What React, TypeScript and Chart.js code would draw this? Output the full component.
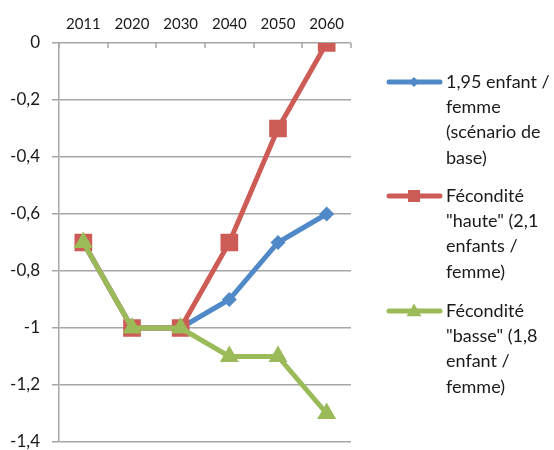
import React, { useEffect, useRef } from "react";
import { Chart, registerables } from "chart.js";

Chart.register(...registerables);

const categories = ["2011", "2020", "2030", "2040", "2050", "2060"];
const baseScenario = [-0.7, -1.0, -1.0, -0.9, -0.7, -0.6];
const highFertility = [-0.7, -1.0, -1.0, -0.7, -0.3, 0];
const lowFertility = [-0.7, -1.0, -1.0, -1.1, -1.1, -1.3];
const legendLabels = [
  ["1,95 enfant /", "femme", "(scénario de", "base)"],
  ["Fécondité", "\"haute\" (2,1", "enfants /", "femme)"],
  ["Fécondité", "\"basse\" (1,8", "enfant /", "femme)"],
];

const BLUE = "#5089C8";
const RED = "#CD5B56";
const GREEN = "#9BBB59";
const GRID = "#A6A6A6";
const FONT = "Lato, 'Open Sans', sans-serif";

function drawMarker(ctx: CanvasRenderingContext2D, style: string, x: number, y: number, r: number, color: string) {
  ctx.save();
  ctx.fillStyle = color;
  ctx.beginPath();
  if (style === "rectRot") {
    ctx.moveTo(x, y - r);
    ctx.lineTo(x + r, y);
    ctx.lineTo(x, y + r);
    ctx.lineTo(x - r, y);
  } else if (style === "rect") {
    ctx.rect(x - r, y - r, 2 * r, 2 * r);
  } else {
    ctx.moveTo(x, y - r);
    ctx.lineTo(x + r, y + r * 0.7);
    ctx.lineTo(x - r, y + r * 0.7);
  }
  ctx.closePath();
  ctx.fill();
  ctx.restore();
}

const customPlugin = {
  id: "custom",
  afterDraw(chart: any) {
    const ctx = chart.ctx as CanvasRenderingContext2D;
    const area = chart.chartArea;
    const xs = chart.scales.x;
    const p0 = xs.getPixelForValue(0);
    const p1 = xs.getPixelForValue(1);
    const half = (p1 - p0) / 2;
    ctx.save();
    ctx.strokeStyle = GRID;
    ctx.lineWidth = 1.5;
    for (let i = 0; i <= categories.length; i++) {
      const x = Math.round(p0 - half + i * 2 * half);
      ctx.beginPath();
      ctx.moveTo(x, area.top);
      ctx.lineTo(x, area.top + 5);
      ctx.stroke();
    }
    ctx.restore();

    const starts = [82, 196, 311];
    const markers = [
      { style: "rectRot", r: 5 },
      { style: "rect", r: 6 },
      { style: "triangle", r: 7.5 },
    ];
    chart.data.datasets.forEach((ds: any, i: number) => {
      const y = starts[i];
      ctx.save();
      ctx.strokeStyle = ds.borderColor;
      ctx.lineWidth = 5;
      ctx.lineCap = "round";
      ctx.beginPath();
      ctx.moveTo(389, y);
      ctx.lineTo(440, y);
      ctx.stroke();
      ctx.restore();
      drawMarker(ctx, markers[i].style, 414, y, markers[i].r, ds.borderColor);
      ctx.save();
      ctx.fillStyle = "#1a1a1a";
      ctx.font = `18px ${FONT}`;
      ctx.textBaseline = "middle";
      ctx.textAlign = "left";
      legendLabels[i].forEach((line, j) => {
        ctx.fillText(line, 446, y + j * 25.3);
      });
      ctx.restore();
    });
  },
};

export default function App() {
  const ref = useRef<HTMLCanvasElement | null>(null);
  useEffect(() => {
    document.body.style.margin = "0";
    const chart = new Chart(ref.current as HTMLCanvasElement, {
      type: "line",
      data: {
        labels: categories,
        datasets: [
          {
            label: legendLabels[0].join(" "),
            data: baseScenario,
            borderColor: BLUE,
            backgroundColor: BLUE,
            borderWidth: 5,
            pointStyle: "rectRot",
            pointRadius: 7.5,
            pointBorderWidth: 0,
            order: 2,
            tension: 0,
          },
          {
            label: legendLabels[1].join(" "),
            data: highFertility,
            borderColor: RED,
            backgroundColor: RED,
            borderWidth: 5,
            pointStyle: "rect",
            pointRadius: 12.5,
            pointBorderWidth: 0,
            order: 1,
            tension: 0,
          },
          {
            label: legendLabels[2].join(" "),
            data: lowFertility,
            borderColor: GREEN,
            backgroundColor: GREEN,
            borderWidth: 5,
            pointStyle: "triangle",
            pointRadius: 11,
            pointBorderWidth: 0,
            order: 0,
            tension: 0,
          },
        ],
      },
      options: {
        animation: false,
        responsive: false,
        maintainAspectRatio: false,
        layout: { autoPadding: false, padding: { left: 0, top: 0, right: 203, bottom: 8 } },
        plugins: {
          legend: { display: false },
          tooltip: { enabled: false },
        },
        scales: {
          x: {
            type: "category",
            position: "top",
            offset: true,
            grid: { display: false },
            border: { display: false },
            ticks: {
              color: "#1a1a1a",
              font: { family: FONT, size: 15 },
              padding: 2,
              maxRotation: 0,
            },
            afterFit(scale: any) {
              scale.height = 43;
              scale.paddingLeft = 0;
              scale.paddingRight = 0;
            },
          },
          y: {
            min: -1.4,
            max: 0,
            grid: {
              color: GRID,
              lineWidth: 1.5,
              tickLength: 7,
              drawTicks: true,
            },
            border: { display: true, color: GRID, width: 1.5 },
            ticks: {
              stepSize: 0.2,
              color: "#1a1a1a",
              font: { family: FONT, size: 17 },
              padding: 12,
              callback: (v: any) => {
                const n = Math.round(Number(v) * 10) / 10;
                return n === 0 ? "0" : String(n).replace(".", ",");
              },
            },
            afterFit(scale: any) {
              scale.width = 59;
              scale.paddingTop = 0;
              scale.paddingBottom = 0;
            },
          },
        },
      },
      plugins: [customPlugin],
    });
    return () => chart.destroy();
  }, []);
  return (
    <div style={{ width: 554, height: 450, background: "#fff" }}>
      <canvas ref={ref} width={554} height={450} style={{ display: "block" }} />
    </div>
  );
}
